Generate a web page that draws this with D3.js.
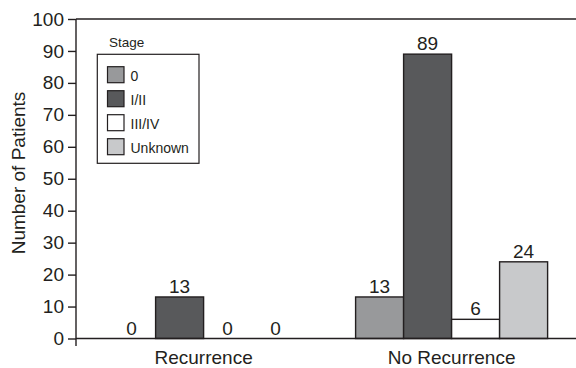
<!DOCTYPE html>
<html>
<head>
<meta charset="utf-8">
<script src="https://cdn.jsdelivr.net/npm/d3@7"></script>
<style>
  body { margin: 0; background: #fff; }
  svg { display: block; font-family: "Liberation Sans", Arial, sans-serif; }
  .axis text { font-size: 19px; fill: #231f20; }
  .value { font-size: 19px; fill: #231f20; }
  .legend text { font-size: 14px; fill: #231f20; }
</style>
</head>
<body>
<div id="chart"></div>
<script>
// data
const groups = ["Recurrence", "No Recurrence"];
const stages = ["0", "I/II", "III/IV", "Unknown"];
const recurrence = [0, 13, 0, 0];
const noRecurrence = [13, 89, 6, 24];
const yTicks = [0, 10, 20, 30, 40, 50, 60, 70, 80, 90, 100];
const stageColors = ["#98999b", "#58595b", "#ffffff", "#c8c9cb"];

const data = groups.map(function(g, i) {
  const vals = i === 0 ? recurrence : noRecurrence;
  return { group: g, values: stages.map(function(s, j) { return { stage: s, value: vals[j] }; }) };
});

const W = 576, H = 368;
const plotLeft = 76, plotRight = 576, plotTop = 19, plotBottom = 338.5;

const svg = d3.select("#chart")
  .append("svg")
    .attr("width", W)
    .attr("height", H);

// scales
const x0 = d3.scaleBand()
  .domain(groups)
  .range([79.6, 575.6]);

const x1 = d3.scaleBand()
  .domain(stages)
  .range([0, x0.bandwidth()])
  .paddingOuter(0.5833);

const y = d3.scaleLinear()
  .domain([0, 100])
  .range([plotBottom, plotTop]);

const color = d3.scaleOrdinal().domain(stages).range(stageColors);

// top frame line
svg.append("line")
    .attr("x1", plotLeft).attr("x2", plotRight)
    .attr("y1", plotTop).attr("y2", plotTop)
    .attr("stroke", "#231f20").attr("stroke-width", 1.4);

// bars
const barGroup = svg.selectAll(".grp")
  .data(data)
  .enter()
  .append("g")
    .attr("class", "grp")
    .attr("transform", function(d) { return "translate(" + x0(d.group) + ",0)"; });

barGroup.selectAll("rect")
  .data(function(d) { return d.values.filter(function(v) { return v.value > 0; }); })
  .enter()
  .append("rect")
    .attr("x", function(d) { return x1(d.stage); })
    .attr("y", function(d) { return y(d.value); })
    .attr("width", x1.bandwidth())
    .attr("height", function(d) { return y(0) - y(d.value); })
    .attr("fill", function(d) { return color(d.stage); })
    .attr("stroke", "#231f20")
    .attr("stroke-width", 1.4);

barGroup.selectAll(".value")
  .data(function(d) { return d.values; })
  .enter()
  .append("text")
    .attr("class", "value")
    .attr("x", function(d) { return x1(d.stage) + x1.bandwidth() / 2; })
    .attr("y", function(d) { return y(d.value) - 4; })
    .attr("text-anchor", "middle")
    .text(function(d) { return d.value; });

// y axis
svg.append("g")
    .attr("class", "axis")
    .attr("transform", "translate(" + plotLeft + ",0)")
  .call(d3.axisLeft(y).tickValues(yTicks).tickSize(8).tickPadding(4).tickSizeOuter(0))
  .call(function(g) {
    g.select(".domain").attr("stroke", "#231f20").attr("stroke-width", 1.4)
      .attr("d", "M0," + plotTop + "V" + (plotBottom + 7.5));
    g.selectAll(".tick line").attr("stroke", "#231f20").attr("stroke-width", 1.4);
  });

// x axis
svg.append("g")
    .attr("class", "axis")
    .attr("transform", "translate(0," + plotBottom + ")")
  .call(d3.axisBottom(x0).tickSize(0).tickPadding(12))
  .call(function(g) {
    g.select(".domain").attr("stroke", "#231f20").attr("stroke-width", 1.4)
      .attr("d", "M" + plotLeft + ",0H" + plotRight);
  });

// y label
svg.append("text")
    .attr("transform", "translate(25,173) rotate(-90)")
    .attr("text-anchor", "middle")
    .attr("font-size", 19)
    .attr("fill", "#231f20")
    .text("Number of Patients");

// legend
const legend = svg.append("g").attr("class", "legend");

legend.append("text")
    .attr("x", 109)
    .attr("y", 46.5)
    .style("font-size", "13.5px")
    .text("Stage");

legend.append("rect")
    .attr("x", 97.3).attr("y", 54.3)
    .attr("width", 101.7).attr("height", 109)
    .attr("fill", "#fff")
    .attr("stroke", "#231f20")
    .attr("stroke-width", 1.2);

const item = legend.selectAll(".item")
  .data(stages)
  .enter()
  .append("g")
    .attr("class", "item")
    .attr("transform", function(d, i) { return "translate(107.5," + (66.7 + i * 24) + ")"; });

item.append("rect")
    .attr("width", 16.5)
    .attr("height", 16)
    .attr("fill", function(d) { return color(d); })
    .attr("stroke", "#231f20")
    .attr("stroke-width", 1.2);

item.append("text")
    .attr("x", 23)
    .attr("y", 14.3)
    .text(function(d) { return d; });
</script>
</body>
</html>
